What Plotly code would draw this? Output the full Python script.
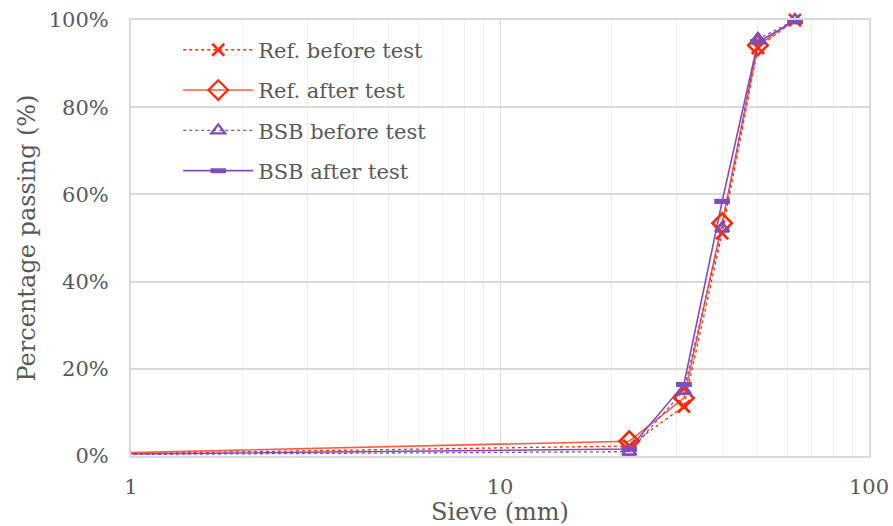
import plotly.graph_objects as go

sieve = [0.5, 22.4, 31.5, 40, 50, 63]
ref_before = [0.2, 2.3, 11.4, 51.1, 93.6, 100.0]
ref_after = [0.2, 3.4, 13.3, 53.4, 94.2, 100.2]
bsb_before = [0.2, 1.0, 15.0, 52.2, 95.6, 100.0]
bsb_after = [0.2, 1.6, 16.4, 58.4, 95.0, 99.7]

names = ["Ref. before test", "Ref. after test", "BSB before test", "BSB after test"]

RED = "#FF2A0A"
RED_LINE = "#FF5A3C"
PURPLE = "#7E4CBD"
FONT = "DejaVu Serif"
GREY = "#595959"

series = [
    (names[0], ref_before, dict(color=RED, width=1.3, dash="dot"),
     dict(symbol="x-thin-open", size=12, color=RED, line=dict(color=RED, width=2.5))),
    (names[1], ref_after, dict(color=RED_LINE, width=1.6),
     dict(symbol="diamond-open", size=15, color=RED, line=dict(color=RED, width=2.3))),
    (names[2], bsb_before, dict(color=PURPLE, width=1.3, dash="dot"),
     dict(symbol="triangle-up-open", size=12, color=PURPLE, line=dict(color=PURPLE, width=2.3))),
    (names[3], bsb_after, dict(color=PURPLE, width=1.6),
     dict(symbol="line-ew", size=11, color=PURPLE, line=dict(color=PURPLE, width=5))),
]

fig = go.Figure()
for i, (name, vals, ln, mk) in enumerate(series):
    fig.add_trace(go.Scatter(
        x=sieve, y=vals, name=name, mode="lines+markers", legendgroup=str(i),
        line=ln, marker=mk))
for i, (name, vals, ln, mk) in enumerate(series):
    # unclipped markers for the points inside the axis range
    fig.add_trace(go.Scatter(
        x=sieve[1:], y=vals[1:], name=name, mode="markers", legendgroup=str(i),
        showlegend=False, cliponaxis=False, marker=mk, hoverinfo="skip"))

fig.update_layout(
    width=893, height=526,
    margin=dict(l=131, r=24, t=20, b=70),
    paper_bgcolor="white", plot_bgcolor="white",
    font=dict(family=FONT, size=21, color=GREY),
    showlegend=True,
    legend=dict(x=0.064, y=0.978, xanchor="left", yanchor="top",
                bgcolor="rgba(0,0,0,0)", font=dict(family=FONT, size=21, color=GREY),
                tracegroupgap=10, itemwidth=70),
    xaxis=dict(type="log", range=[0, 2], automargin=False, ticklabeloverflow="allow",
               tickvals=[1, 10, 100], ticktext=["1", "10", "100"],
               showgrid=True, gridcolor="#D9D9D9", gridwidth=1,
               minor=dict(showgrid=True, gridcolor="#EFEFEF", gridwidth=1,
                          tickvals=[2, 3, 4, 5, 6, 7, 8, 9, 20, 30, 40, 50, 60, 70, 80, 90]),
               showline=True, linecolor="#D9D9D9", linewidth=2, mirror=True,
               ticks="", ticklabelstandoff=11, zeroline=False,
               title=dict(text="Sieve (mm)", font=dict(size=24, color=GREY), standoff=0)),
    yaxis=dict(range=[0, 100], dtick=20, ticksuffix="%", automargin=False,
               ticklabeloverflow="allow",
               showgrid=True, gridcolor="#D9D9D9", gridwidth=1.5,
               showline=True, linecolor="#D9D9D9", linewidth=2, mirror=True,
               ticks="", ticklabelstandoff=16, zeroline=False,
               title=dict(text="Percentage passing (%)", font=dict(size=24, color=GREY), standoff=6)),
)

fig.write_html("out.html")
